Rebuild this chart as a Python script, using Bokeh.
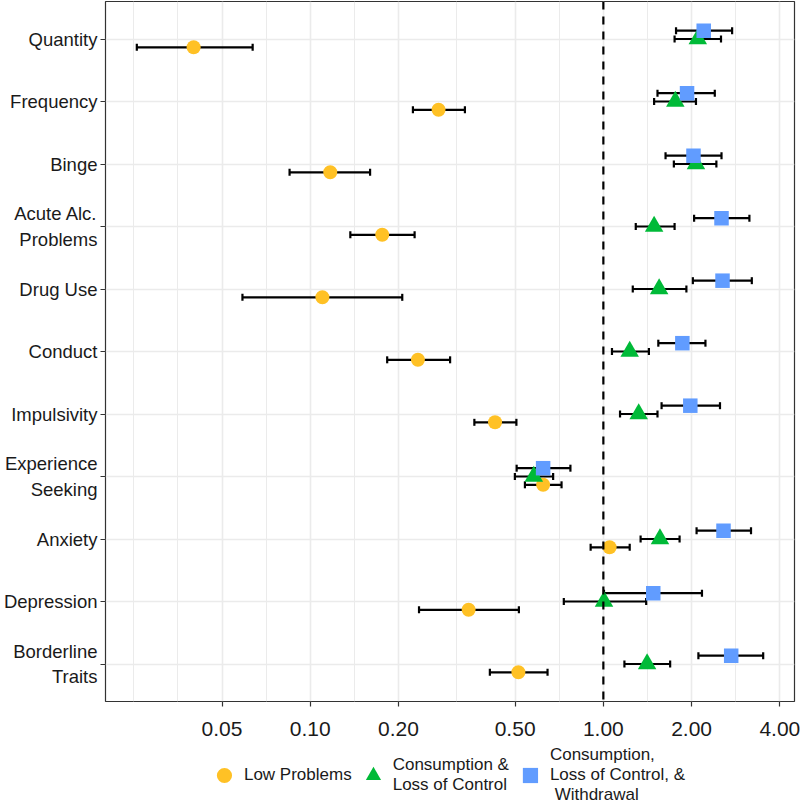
import math
from bokeh.plotting import figure
from bokeh.layouts import column
from bokeh.models import (ColumnDataSource, FactorRange, Range1d, FixedTicker,
                          PrintfTickFormatter, Span, Legend, LegendItem)
from bokeh.transform import dodge
from bokeh.embed import file_html
from bokeh.resources import INLINE

# ---------------- data ----------------
categories = ["Quantity", "Frequency", "Binge", "Acute Alc.\nProblems", "Drug Use",
              "Conduct", "Impulsivity", "Experience\nSeeking", "Anxiety",
              "Depression", "Borderline\nTraits"]

groups = ["Low Problems",
          "Consumption &\nLoss of Control",
          "Consumption,\nLoss of Control, &\n Withdrawal"]

low_or = [0.040, 0.274, 0.117, 0.176, 0.110, 0.233, 0.427, 0.623, 1.05, 0.347, 0.513]
low_lo = [0.0256, 0.224, 0.085, 0.137, 0.0587, 0.183, 0.363, 0.540, 0.905, 0.235, 0.410]
low_hi = [0.0636, 0.337, 0.160, 0.227, 0.206, 0.300, 0.505, 0.720, 1.23, 0.515, 0.645]

clc_or = [2.10, 1.76, 2.07, 1.49, 1.55, 1.23, 1.32, 0.579, 1.56, 1.005, 1.41]
clc_lo = [1.75, 1.49, 1.74, 1.29, 1.26, 1.07, 1.14, 0.499, 1.34, 0.733, 1.18]
clc_hi = [2.52, 2.07, 2.43, 1.75, 1.92, 1.43, 1.53, 0.674, 1.82, 1.40, 1.69]

clcw_or = [2.20, 1.93, 2.03, 2.53, 2.55, 1.86, 1.98, 0.623, 2.57, 1.48, 2.73]
clcw_lo = [1.77, 1.53, 1.63, 2.04, 2.02, 1.54, 1.58, 0.506, 2.08, 1.005, 2.11]
clcw_hi = [2.75, 2.40, 2.53, 3.15, 3.21, 2.23, 2.50, 0.772, 3.19, 2.17, 3.51]

x_ticks = [0.05, 0.10, 0.20, 0.50, 1.00, 2.00, 4.00]

# ---------------- styling ----------------
colors = ["#FFC125", "#00BA38", "#619CFF"]
markers = ["circle", "triangle", "square"]
sizes = [14, 18.5, 14.5]
offsets = [-0.133, 0.0, 0.133]
FONT = "Liberation Sans"

# x range: 5% expansion in log space of the interval extent
all_lo = low_lo + clc_lo + clcw_lo
all_hi = low_hi + clc_hi + clcw_hi
lmin, lmax = math.log10(min(all_lo)), math.log10(max(all_hi))
pad = 0.05 * (lmax - lmin)
xmin, xmax = 10 ** (lmin - pad), 10 ** (lmax + pad)

# minor grid positions: midpoints (log space) between major breaks, plus one extension below
lt = [math.log10(t) for t in x_ticks]
ext = [lt[0] - (lt[1] - lt[0])] + lt
minor = [10 ** ext[0]] + [10 ** ((a + b) / 2) for a, b in zip(ext[:-1], ext[1:])]

p = figure(frame_width=689, frame_height=700, x_axis_type="log",
           x_range=Range1d(xmin, xmax),
           y_range=FactorRange(factors=categories[::-1], range_padding=0.1,
                               range_padding_units="absolute"),
           output_backend="svg", toolbar_location=None,
           min_border_left=96, min_border_right=7, min_border_top=1, min_border_bottom=45)

p.background_fill_color = "white"
p.border_fill_color = "white"
p.outline_line_color = "#333333"
p.outline_line_width = 1.2

# axes
p.xaxis.ticker = FixedTicker(ticks=x_ticks, minor_ticks=minor)
p.xaxis.formatter = PrintfTickFormatter(format="%.2f")
p.xaxis.major_label_text_font = FONT
p.xaxis.major_label_text_font_size = "21px"
p.xaxis.major_label_text_color = "#1a1a1a"
p.xaxis.major_tick_in = 0
p.xaxis.major_tick_out = 5
p.xaxis.major_tick_line_color = "#333333"
p.xaxis.major_tick_line_width = 1.2
p.xaxis.minor_tick_line_color = None
p.xaxis.axis_line_color = None
p.xaxis.major_label_standoff = 15

p.yaxis.major_label_text_font = FONT
p.yaxis.major_label_text_font_size = "18.5px"
p.yaxis.major_label_text_color = "#1a1a1a"
p.yaxis.major_tick_in = 0
p.yaxis.major_tick_out = 5
p.yaxis.major_tick_line_color = "#333333"
p.yaxis.major_tick_line_width = 1.2
p.yaxis.axis_line_color = None
p.yaxis.major_label_standoff = 3

# grids
p.xgrid.grid_line_color = "#EBEBEB"
p.xgrid.grid_line_width = 1.6
p.xgrid.minor_grid_line_color = "#EBEBEB"
p.xgrid.minor_grid_line_width = 1.0
p.ygrid.grid_line_color = "#EBEBEB"
p.ygrid.grid_line_width = 1.6

# reference line at OR = 1
p.add_layout(Span(location=1.0, dimension="height", line_color="black",
                  line_width=2.2, line_dash="8 7"))

series = [(low_or, low_lo, low_hi), (clc_or, clc_lo, clc_hi), (clcw_or, clcw_lo, clcw_hi)]
sources = [ColumnDataSource(dict(cat=categories, est=e, lo=l, hi=h)) for e, l, h in series]

# error bars first
for src, off in zip(sources, offsets):
    yd = dodge("cat", off, range=p.y_range)
    p.segment(x0="lo", x1="hi", y0=yd, y1=yd, source=src, line_color="black", line_width=2.2)
    for col in ("lo", "hi"):
        p.scatter(x=col, y=yd, source=src, marker="dash", angle=math.pi / 2, size=7,
                  line_color="black", line_width=2.2)

# points on top
for src, off, c, m, s in zip(sources, offsets, colors, markers, sizes):
    yd = dodge("cat", off, range=p.y_range)
    p.scatter(x="est", y=yd, source=src, marker=m, size=s, fill_color=c, line_color=None)

# ---------------- legend strip (own small figure under the chart) ----------------
lg = figure(width=792, height=58, output_backend="svg", toolbar_location=None,
            x_axis_location=None, y_axis_location=None,
            x_range=Range1d(0, 1), y_range=Range1d(0, 1),
            min_border_left=90, min_border_right=0, min_border_top=0, min_border_bottom=0)
lg.outline_line_color = None
lg.xgrid.visible = False
lg.ygrid.visible = False
lg.border_fill_color = "white"
key_src = ColumnDataSource(dict(x=[0.5], y=[0.5]))
key_renderers = []
for c, m in zip(colors, markers):
    key_renderers.append(lg.scatter(x="x", y="y", source=key_src, marker=m,
                                    fill_color=c, line_color=None, visible=False))

legend = Legend(items=[LegendItem(label=g, renderers=[r]) for g, r in zip(groups, key_renderers)],
                orientation="horizontal", location="center",
                label_text_font=FONT, label_text_font_size="17px",
                label_text_color="#1a1a1a", label_text_line_height=1.0,
                glyph_width=38, glyph_height=38, label_standoff=1, spacing=2,
                padding=0, margin=0, border_line_color=None,
                background_fill_alpha=0)
lg.add_layout(legend, "center")

layout = column(p, lg, spacing=0)
open("out.html", "w").write(file_html(layout, INLINE))
